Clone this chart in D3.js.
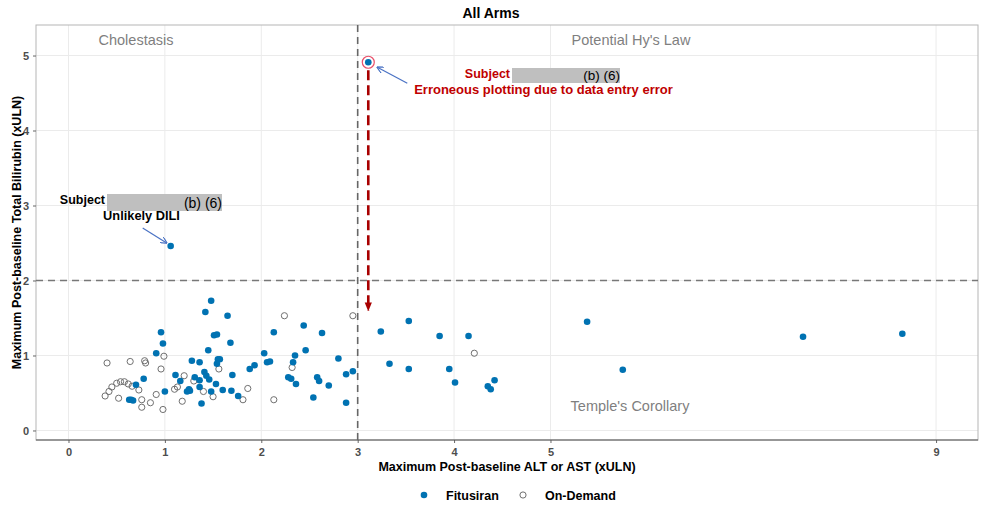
<!DOCTYPE html>
<html>
<head>
<meta charset="utf-8">
<script src="https://cdn.jsdelivr.net/npm/d3@7"></script>
<style>
  html, body { margin: 0; padding: 0; background: #fff; }
  svg { display: block; font-family: "Liberation Sans", Arial, sans-serif; }
</style>
</head>
<body>
<svg id="chart" width="982" height="507"></svg>
<script>
// Peak liver tests per subject: ALT/AST (xULN) vs total bilirubin (xULN)
const fitusiranALT = [5.38, 5.75, 7.62, 8.65, 3.53, 3.24, 3.85, 4.15, 3.33, 3.53, 3.95, 4.01, 4.35, 4.38, 4.42,
  1.65, 2.44, 2.13, 2.63, 1.68, 2.03, 2.46, 2.80, 1.57, 2.06, 2.09, 2.35, 2.33, 1.93, 1.88, 1.70, 2.88, 2.95,
  2.28, 2.31, 2.58, 2.60, 2.36, 2.70, 1.60, 1.69, 1.76, 2.54, 2.88,
  1.48, 1.42, 0.96, 1.51, 1.54, 0.98, 1.45, 0.91, 1.28, 1.36, 1.55, 1.54, 1.11, 1.16, 1.31, 1.41, 1.43, 1.46,
  1.36, 1.53, 1.25, 1.26, 1.23, 1.36, 1.48, 1.00, 1.38, 0.78, 0.70, 0.63, 0.65, 0.67, 1.06, 3.11];
const fitusiranTBL = [1.45, 0.81, 1.25, 1.29, 1.46, 1.32, 1.26, 1.26, 0.89, 0.82, 0.82, 0.64, 0.59, 0.55, 0.67,
  1.53, 1.40, 1.31, 1.30, 1.17, 1.03, 1.07, 0.96, 0.95, 0.91, 0.92, 1.00, 0.91, 0.87, 0.82, 0.74, 0.75, 0.79,
  0.71, 0.69, 0.71, 0.66, 0.62, 0.60, 0.54, 0.53, 0.46, 0.44, 0.37,
  1.73, 1.58, 1.31, 1.27, 1.28, 1.16, 1.07, 1.03, 0.93, 0.91, 0.95, 0.89, 0.74, 0.66, 0.71, 0.78, 0.73, 0.68,
  0.67, 0.62, 0.55, 0.53, 0.52, 0.58, 0.52, 0.52, 0.36, 0.69, 0.61, 0.41, 0.41, 0.40, 2.46, 4.91];
const onDemandALT = [2.24, 2.95, 4.21, 2.32, 1.86, 1.81, 2.13, 0.99, 0.96, 1.56, 1.20, 1.30, 1.10, 1.13, 1.40,
  1.50, 1.18, 0.98, 0.40, 0.64, 0.79, 0.80, 0.91, 0.38, 0.42, 0.45, 0.50, 0.54, 0.58, 0.62, 0.66, 0.73, 0.52,
  0.76, 0.85, 0.76];
const onDemandTBL = [1.53, 1.53, 1.03, 0.84, 0.56, 0.41, 0.41, 0.99, 0.82, 0.82, 0.73, 0.66, 0.55, 0.58, 0.52,
  0.45, 0.39, 0.28, 0.90, 0.92, 0.93, 0.90, 0.48, 0.46, 0.52, 0.58, 0.63, 0.65, 0.65, 0.62, 0.59, 0.54, 0.43,
  0.41, 0.37, 0.31];

const xTicks = [0, 1, 2, 3, 4, 5, 9];
const yTicks = [0, 1, 2, 3, 4, 5];
const altLimit = 3;          // 3 x ULN
const bilirubinLimit = 2;    // 2 x ULN
const unlikelyDili = [1.06, 2.46];
const erroneousPoint = [3.11, 4.91];
const correctedTBL = 1.6;

const svg = d3.select("#chart");
const panel = { left: 36, right: 978, top: 25, bottom: 440 };

const x = d3.scaleLinear().domain([-0.337, 9.435]).range([panel.left, panel.right]);
const y = d3.scaleLinear().domain([-0.127, 5.407]).range([panel.bottom, panel.top]);

const blue = "#0072B2";
const grey = "#707070";
const red = "#C00000";

// Panel background and grid
svg.append("rect").attr("x", panel.left).attr("y", panel.top)
  .attr("width", panel.right - panel.left).attr("height", panel.bottom - panel.top)
  .attr("fill", "#fff");

const grid = svg.append("g");
grid.selectAll("line.vx").data(xTicks).join("line")
  .attr("x1", d => x(d)).attr("x2", d => x(d))
  .attr("y1", panel.top).attr("y2", panel.bottom)
  .attr("stroke", "#ebebeb").attr("stroke-width", 1);
grid.selectAll("line.hy").data(yTicks).join("line")
  .attr("y1", d => y(d)).attr("y2", d => y(d))
  .attr("x1", panel.left).attr("x2", panel.right)
  .attr("stroke", "#ebebeb").attr("stroke-width", 1);

// Panel border
svg.append("rect").attr("x", panel.left).attr("y", panel.top)
  .attr("width", panel.right - panel.left).attr("height", panel.bottom - panel.top)
  .attr("fill", "none").attr("stroke", "#b5b5b5").attr("stroke-width", 1);

// Axes
const xAxis = svg.append("g").attr("transform", `translate(0,${panel.bottom})`)
  .call(d3.axisBottom(x).tickValues(xTicks).tickSize(3).tickPadding(5).tickFormat(d3.format("d")));
const yAxis = svg.append("g").attr("transform", `translate(${panel.left},0)`)
  .call(d3.axisLeft(y).tickValues(yTicks).tickSize(3).tickPadding(4).tickFormat(d3.format("d")));
[xAxis, yAxis].forEach(a => {
  a.select(".domain").remove();
  a.selectAll(".tick line").attr("stroke", "#666");
  a.selectAll(".tick text").attr("fill", "#4d4d4d").attr("font-size", 11).attr("font-weight", "bold")
    .attr("font-family", "Liberation Sans, Arial, sans-serif");
});
svg.append("line").attr("x1", panel.left).attr("x2", panel.right)
  .attr("y1", panel.bottom).attr("y2", panel.bottom).attr("stroke", "#555").attr("stroke-width", 1.2);

// Threshold lines
svg.append("line").attr("x1", x(altLimit)).attr("x2", x(altLimit))
  .attr("y1", panel.top).attr("y2", panel.bottom)
  .attr("stroke", "#666").attr("stroke-width", 1.6).attr("stroke-dasharray", "7,5");
svg.append("line").attr("x1", panel.left).attr("x2", panel.right)
  .attr("y1", y(bilirubinLimit)).attr("y2", y(bilirubinLimit))
  .attr("stroke", "#777").attr("stroke-width", 1.6).attr("stroke-dasharray", "7,5");

// Quadrant labels
const quad = [
  { t: "Cholestasis", cx: 136, cy: 45 },
  { t: "Potential Hy's Law", cx: 631, cy: 45 },
  { t: "Temple's Corollary", cx: 630, cy: 411 }
];
svg.selectAll("text.quad").data(quad).join("text")
  .attr("x", d => d.cx).attr("y", d => d.cy).attr("text-anchor", "middle")
  .attr("font-size", 14.5).attr("fill", "#7f7f7f").text(d => d.t);

// Points
const onDemand = onDemandALT.map((v, i) => [v, onDemandTBL[i]]);
const fitusiran = fitusiranALT.map((v, i) => [v, fitusiranTBL[i]]);
svg.append("g").selectAll("circle").data(onDemand).join("circle")
  .attr("cx", d => x(d[0])).attr("cy", d => y(d[1])).attr("r", 3.1)
  .attr("fill", "none").attr("stroke", grey).attr("stroke-width", 1);
svg.append("g").selectAll("circle").data(fitusiran).join("circle")
  .attr("cx", d => x(d[0])).attr("cy", d => y(d[1])).attr("r", 3.3)
  .attr("fill", blue);

// Arrow markers
const defs = svg.append("defs");
defs.append("marker").attr("id", "blueHead").attr("viewBox", "0 0 10 10")
  .attr("refX", 9).attr("refY", 5).attr("markerWidth", 7).attr("markerHeight", 7)
  .attr("markerUnits", "userSpaceOnUse").attr("orient", "auto")
  .append("path").attr("d", "M0,0 L10,5 L0,10").attr("fill", "none").attr("stroke", "#4a72c4").attr("stroke-width", 1.6);
defs.append("marker").attr("id", "redHead").attr("viewBox", "0 0 10 10")
  .attr("refX", 9).attr("refY", 5).attr("markerWidth", 9).attr("markerHeight", 9)
  .attr("markerUnits", "userSpaceOnUse").attr("orient", "auto")
  .append("path").attr("d", "M0,1 L10,5 L0,9 Z").attr("fill", "#a80000");

// Unlikely DILI subject
const dx = x(unlikelyDili[0]), dy = y(unlikelyDili[1]);
svg.append("line").attr("x1", dx - 28).attr("y1", dy - 18).attr("x2", dx - 4).attr("y2", dy - 3)
  .attr("stroke", "#4a72c4").attr("stroke-width", 1.2).attr("marker-end", "url(#blueHead)");
svg.append("rect").attr("x", 107).attr("y", 194).attr("width", 115).attr("height", 17).attr("fill", "#bfbfbf");
svg.append("text").attr("x", 105).attr("y", 204).attr("text-anchor", "end")
  .attr("font-size", 12.5).attr("font-weight", "bold").attr("fill", "#000").text("Subject");
svg.append("text").attr("x", 222).attr("y", 208).attr("text-anchor", "end")
  .attr("font-size", 14).attr("fill", "#000").text("(b) (6)");
svg.append("text").attr("x", 141.5).attr("y", 220).attr("text-anchor", "middle")
  .attr("font-size", 12.8).attr("font-weight", "bold").attr("fill", "#000").text("Unlikely DILI");

// Erroneous data-entry subject
const ex = x(erroneousPoint[0]), ey = y(erroneousPoint[1]);
svg.append("line").attr("x1", ex).attr("x2", ex).attr("y1", ey + 8).attr("y2", y(correctedTBL))
  .attr("stroke", "#a80000").attr("stroke-width", 2.6).attr("stroke-dasharray", "10,5")
  .attr("marker-end", "url(#redHead)");
svg.append("circle").attr("cx", ex).attr("cy", ey).attr("r", 6)
  .attr("fill", "none").attr("stroke", "#e8506a").attr("stroke-width", 1.2);
svg.append("line").attr("x1", ex + 39).attr("y1", ey + 21).attr("x2", ex + 9).attr("y2", ey + 5)
  .attr("stroke", "#4a72c4").attr("stroke-width", 1.2).attr("marker-end", "url(#blueHead)");
svg.append("rect").attr("x", 512).attr("y", 68).attr("width", 108).attr("height", 15).attr("fill", "#bfbfbf");
svg.append("text").attr("x", 510).attr("y", 78).attr("text-anchor", "end")
  .attr("font-size", 12.5).attr("font-weight", "bold").attr("fill", red).text("Subject");
svg.append("text").attr("x", 620).attr("y", 80).attr("text-anchor", "end")
  .attr("font-size", 13.5).attr("fill", "#000").text("(b) (6)");
svg.append("text").attr("x", 543.5).attr("y", 94).attr("text-anchor", "middle")
  .attr("font-size", 13).attr("font-weight", "bold").attr("fill", red)
  .text("Erroneous plotting due to data entry error");

// Titles
svg.append("text").attr("x", 491).attr("y", 18).attr("text-anchor", "middle")
  .attr("font-size", 14).attr("font-weight", "bold").attr("fill", "#000").text("All Arms");
svg.append("text").attr("x", (panel.left + panel.right) / 2).attr("y", 471).attr("text-anchor", "middle")
  .attr("font-size", 12.5).attr("font-weight", "bold").attr("fill", "#000")
  .text("Maximum Post-baseline ALT or AST (xULN)");
svg.append("text").attr("transform", `translate(21,${(panel.top + panel.bottom) / 2}) rotate(-90)`)
  .attr("text-anchor", "middle").attr("font-size", 12.5).attr("font-weight", "bold").attr("fill", "#000")
  .text("Maximum Post-baseline Total Bilirubin (xULN)");

// Legend
const leg = svg.append("g");
leg.append("circle").attr("cx", 424).attr("cy", 495).attr("r", 3.3).attr("fill", blue);
leg.append("text").attr("x", 446).attr("y", 499.5).attr("font-size", 12.5).attr("font-weight", "bold").text("Fitusiran");
leg.append("circle").attr("cx", 523).attr("cy", 495).attr("r", 3.1).attr("fill", "none").attr("stroke", grey);
leg.append("text").attr("x", 545).attr("y", 499.5).attr("font-size", 12.5).attr("font-weight", "bold").text("On-Demand");
</script>
</body>
</html>
